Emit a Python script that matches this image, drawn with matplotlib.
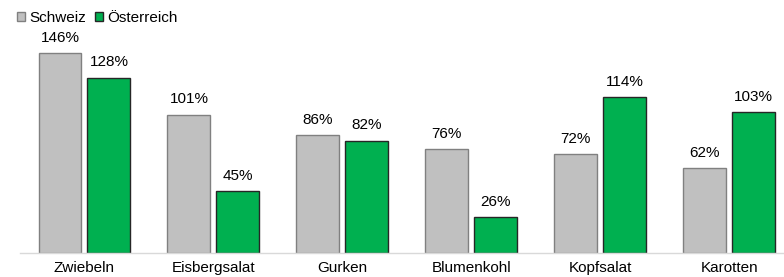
import matplotlib.pyplot as plt
import numpy as np

plt.rcParams['font.family'] = ['Liberation Sans', 'DejaVu Sans']

kategorien = ['Zwiebeln', 'Eisbergsalat', 'Gurken', 'Blumenkohl', 'Kopfsalat', 'Karotten']
schweiz = [146, 101, 86, 76, 72, 62]
oesterreich = [128, 45, 82, 26, 114, 103]

fig = plt.figure(figsize=(7.84, 2.77), dpi=100)
# axes in pixel terms: left 20px, baseline at 253px, top at 0
ax = fig.add_axes([20 / 784, 24 / 277, 1 - 20 / 784, 253 / 277])

x = np.arange(len(kategorien))
w = 0.333
off = 0.19
b1 = ax.bar(x - off, schweiz, w, color='#C0C0C0', edgecolor='#808080', linewidth=1, label='Schweiz')
b2 = ax.bar(x + off, oesterreich, w, color='#00B050', edgecolor='#262626', linewidth=1, label='Österreich')

for bars, vals in [(b1, schweiz), (b2, oesterreich)]:
    for b, v in zip(bars, vals):
        ax.annotate(f'{v}%', (b.get_x() + b.get_width() / 2, v), xytext=(0, 6),
                    textcoords='offset points', ha='center', va='bottom', fontsize=11)

ax.set_xlim(-0.5, 5.426)
ax.set_ylim(0, 184.7)
ax.set_xticks(x)
ax.set_xticklabels(kategorien, fontsize=11)
ax.tick_params(axis='x', length=0, pad=6)
ax.set_yticks([])
for s in ['top', 'right', 'left']:
    ax.spines[s].set_visible(False)
ax.spines['bottom'].set_color('#D9D9D9')
ax.spines['bottom'].set_linewidth(1)

ax.legend(loc='upper left', bbox_to_anchor=(-0.022, 1.01), ncol=2, frameon=False, fontsize=11,
          handlelength=0.55, handleheight=0.55, handletextpad=0.25, columnspacing=0.6)

fig.savefig('out.png', dpi=100)
